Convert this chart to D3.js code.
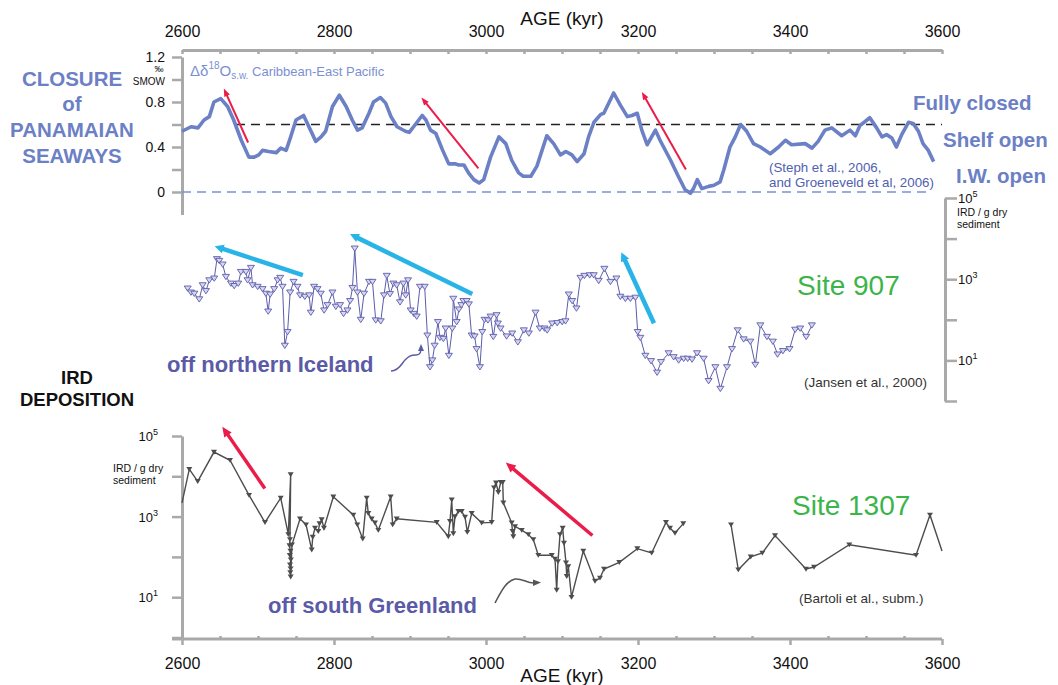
<!DOCTYPE html>
<html><head><meta charset="utf-8">
<script src="https://cdn.jsdelivr.net/npm/d3@7"></script>
<style>
body{margin:0;background:#fff;}
svg{display:block;font-family:"Liberation Sans",Arial,Helvetica,sans-serif;}
</style></head><body><svg id="c" width="1058" height="685"></svg>
<script>
// ---------- tick labels ----------
const ageTicks=[2600,2800,3000,3200,3400,3600];
const ageMinorTicks=d3.range(2600,3601,50);
const deltaTicks=[0,0.2,0.4,0.6,0.8,1.0,1.2];
const deltaLabels=[0,0.4,0.8,1.2];
const irdTicks=[1,10,100,1e3,1e4,1e5];
const irdLabels=[10,1e3,1e5];
// reference levels (Δδ18O)
const fullyClosedLevel=0.6, fullyClosedFrom=2671;
const iwOpenLevel=0, iwOpenTo=3585;

// ---------- Δδ18O s.w. Caribbean - East Pacific ----------
const deltaAge=[2600,2612,2621,2629,2636,2642,2651,2660,2668,2678,2688,2695,2701,2706,2714,2724,2730,2737,2743,2750,2760,2767,2776,2783,2789,2798,2807,2816,2824,2831,2837,2846,2852,2861,2868,2875,2883,2894,2899,2907,2916,2921,2927,2934,2943,2951,2960,2964,2971,2977,2984,2991,2997,3006,3017,3026,3034,3043,3049,3059,3067,3080,3089,3098,3105,3113,3120,3129,3135,3142,3151,3155,3168,3177,3186,3192,3199,3205,3212,3223,3229,3243,3253,3262,3269,3273,3278,3284,3293,3300,3308,3313,3321,3328,3335,3343,3352,3361,3374,3385,3394,3402,3420,3429,3437,3446,3455,3468,3479,3486,3492,3505,3514,3521,3527,3534,3540,3547,3556,3562,3569,3575,3582,3589];
const deltaVal=[0.54,0.58,0.57,0.64,0.67,0.80,0.83,0.76,0.64,0.46,0.31,0.31,0.33,0.37,0.36,0.35,0.39,0.37,0.49,0.64,0.68,0.58,0.45,0.49,0.54,0.76,0.86,0.76,0.64,0.55,0.57,0.70,0.80,0.84,0.79,0.67,0.58,0.54,0.53,0.60,0.68,0.64,0.55,0.52,0.37,0.25,0.25,0.24,0.24,0.17,0.11,0.08,0.11,0.31,0.49,0.43,0.28,0.17,0.14,0.14,0.23,0.50,0.43,0.33,0.36,0.33,0.27,0.34,0.49,0.62,0.69,0.70,0.88,0.77,0.67,0.68,0.70,0.55,0.42,0.55,0.46,0.28,0.14,0.02,-0.01,0.03,0.11,0.03,0.05,0.06,0.09,0.20,0.40,0.49,0.60,0.54,0.43,0.40,0.34,0.40,0.46,0.42,0.43,0.39,0.45,0.55,0.57,0.50,0.55,0.50,0.59,0.66,0.57,0.49,0.51,0.48,0.40,0.51,0.62,0.61,0.54,0.43,0.37,0.27];

// ---------- IRD Site 907 (IRD / g dry sediment) ----------
const ird907Age=[2607.5,2611.8,2616.2,2622.7,2627.2,2631.5,2635.9,2642.4,2646,2649,2653.5,2657.8,2664.4,2668.7,2674,2677.5,2684.1,2686.3,2690.7,2692.9,2699.5,2706,2710.4,2713.4,2716,2721.3,2725.8,2729.2,2732.3,2735.3,2738.9,2742.3,2746.8,2752,2755.4,2761.6,2767.3,2769.5,2773.8,2778.3,2782.6,2787,2791.5,2798,2802.4,2808,2812.5,2817.7,2821.2,2824.3,2827.3,2830.9,2835.2,2839.5,2846.1,2850.6,2854.9,2861.5,2865.8,2869.4,2873.7,2878.2,2882.5,2886.9,2891.3,2894.3,2897.4,2900.9,2905.2,2908.8,2913.1,2919.3,2922.9,2926.3,2929.4,2932.4,2936.8,2939.4,2943.9,2946.9,2951.2,2955.7,2957,2961.4,2964.4,2967.5,2970.2,2974.5,2977.5,2981.1,2985,2987.6,2992,2995.1,2998.1,3002.5,3006,3009.6,3013.9,3015.6,3019.2,3027.1,3034.5,3041.9,3049.8,3056.4,3065.2,3070.8,3077,3080.5,3087.1,3093.7,3100.2,3104.6,3108.9,3113.4,3119,3124.3,3129.5,3136.5,3141.8,3148.3,3155.8,3163.7,3171.6,3176.8,3183.4,3190,3196.6,3199.6,3203.1,3209.7,3217.2,3225.1,3230.3,3240.3,3246.9,3253.5,3260.1,3265.3,3271.1,3277.7,3286.4,3292.9,3301.8,3308.4,3317.1,3323.7,3331.1,3339,3347.8,3354.4,3361,3369.7,3377.5,3383.6,3390.7,3399.4,3406.8,3413.4,3421.3,3428.8];
const ird907Val=[590,470,440,320,710,510,940,1040,3120,2830,2300,1140,780,680,780,1510,1510,940,1900,710,650,570,440,160,420,570,940,1080,650,23,50,470,860,650,400,370,400,150,650,570,440,170,230,470,210,230,140,170,290,610,5700,470,100,440,860,860,97,92,400,1210,430,780,710,270,780,400,940,170,140,120,650,650,41,6.8,10,23,88,36,34,61,13,61,330,88,180,230,290,290,240,41,39,19,6.8,50,100,97,120,38,130,81,61,39,46,28,55,46,150,61,61,55,81,83,88,92,420,290,190,1080,1210,1250,1250,910,1800,860,1040,370,330,330,350,50,36,13,9.6,5,9.1,15,12,10,11,11,10.5,15,11,3.1,6.8,2,6.8,19,55,33,29,7.8,73,38,29,14,17,19,57,61,38,73];

// ---------- IRD Site 1307 (IRD / g dry sediment), null = data gap ----------
const ird1307Age=[2600,2609.6,2620.7,2642.1,2663.2,2688.2,2709.2,2729.9,2739.9,2743,2742.1,2741.4,2742.7,2741.8,2743.2,2742.1,2742.9,2742.5,2743,2744.7,2755.3,2763.2,2770.7,2772,2775,2779.3,2781,2783.8,2786.8,2799.1,2825.4,2830.7,2837.8,2843,2845.1,2849.6,2853.9,2858.3,2874.6,2877.2,2882.5,2935.1,2950.4,2952.6,2954.9,2957,2959.2,2963.6,2968,2972.4,2975.4,2981.2,2994.3,3007.5,3010.5,3013.2,3016.2,3019.4,3022,3022.8,3033.8,3034.9,3035.9,3038.2,3047,3055.7,3062.3,3068.8,3086.5,3090.8,3093,3094.7,3097.4,3100.9,3102.6,3105.3,3106.2,3108.3,3112.5,3128,3143.4,3150,3155.3,3175.4,3199.1,3218,3236.8,3242.1,3248.7,3259.6,3290,3322.4,3332,3348.3,3363.6,3380.3,3421,3431.6,3478,3565.8,3584.2,3600];
const ird1307Val=[2200,15000,7500,40000,25000,3400,720,2900,360,11000,270,190,140,110,85,64,51,41,32,200,880,630,150,310,520,430,670,840,520,3100,1100,630,280,2900,1200,880,700,460,3100,630,880,720,320,760,2600,380,1000,1350,1350,980,410,1200,700,720,5200,6900,4000,7100,7100,2200,700,430,320,570,460,360,270,110,110,89,15,77,360,520,220,71,33,58,10,140,25,30,50,73,160,125,720,520,390,670,null,630,48,100,125,340,50,56,200,110,1100,140];

// ---------- trend arrows [ageFrom, valFrom, ageTo, valTo] ----------
const redTopArrows=[[2687,0.44,2655,0.92],[2990,0.21,2915,0.84],[3263,0.20,3205,0.89]];
const cyanArrows=[[2759,1260,2643,6500],[2982,430,2821,12900],[3221,82,3178,4600]];
const redBotArrows=[[2709,5000,2653,170000],[3140,340,3026,22000]];

// ---------- drawing ----------
const svg=d3.select('#c');
const x=d3.scaleLinear().domain([2600,3600]).range([182,942]);
const yTop=d3.scaleLinear().domain([-0.2,1.2]).range([214.5,57]);
const yMid=d3.scaleLog().domain([1,1e5]).range([401,198]);
const yBot=d3.scaleLog().domain([1,1e5]).range([637.5,436]);

const GRAY='#a9a9a9', BLUE='#6b80c5', LBLUE='#7b90d2', PURP='#5a5aa6', GREEN='#3bb54a', RED='#ec1c4a', CYAN='#28b4e6';

function styleAxis(g){
  g.attr('font-family',null).attr('font-size',null);
  g.selectAll('path.domain').attr('stroke',GRAY).attr('stroke-width',3);
  g.selectAll('.tick line').attr('stroke',GRAY).attr('stroke-width',2.5);
  g.selectAll('.tick text').attr('fill','#111');
}
function txt(xp,yp,s,opt={}){
  const t=svg.append('text').attr('x',xp).attr('y',yp).text(s)
    .attr('font-size',opt.size||13).attr('fill',opt.color||'#111')
    .attr('font-weight',opt.bold?'bold':null).attr('text-anchor',opt.anchor||'start');
  return t;
}
function arrow(x1,y1,x2,y2,color,w,head,headW){
  const dx=x2-x1, dy=y2-y1, L=Math.hypot(dx,dy), ux=dx/L, uy=dy/L;
  const bx=x2-ux*head, by=y2-uy*head;
  svg.append('line').attr('x1',x1).attr('y1',y1).attr('x2',bx+ux).attr('y2',by+uy)
    .attr('stroke',color).attr('stroke-width',w);
  svg.append('path').attr('d',`M${x2},${y2}L${bx-uy*headW/2},${by+ux*headW/2}L${bx+uy*headW/2},${by-ux*headW/2}Z`).attr('fill',color);
}

// top age axis
const gTop=svg.append('g').attr('transform','translate(0,50)')
  .call(d3.axisBottom(x).tickValues(ageMinorTicks).tickSize(4).tickSizeOuter(0).tickFormat(''));
styleAxis(gTop);
const gTopL=svg.append('g').attr('transform','translate(0,50)')
  .call(d3.axisTop(x).tickValues(ageTicks).tickSize(0).tickPadding(13).tickFormat(d3.format('d')));
gTopL.select('.domain').remove();
styleAxis(gTopL); gTopL.selectAll('text').attr('font-size',16);
txt(562,25,'AGE (kyr)',{size:19,anchor:'middle'});

// bottom age axis
svg.append('line').attr('x1',x(2600)-10).attr('x2',x(3600)).attr('y1',639).attr('y2',639)
  .attr('stroke',GRAY).attr('stroke-width',3);
const gBm=svg.append('g').attr('transform','translate(0,639)')
  .call(d3.axisTop(x).tickValues(ageMinorTicks.filter(d=>!ageTicks.includes(d))).tickSize(3).tickFormat(''));
gBm.select('.domain').remove(); styleAxis(gBm);
const gB=svg.append('g').attr('transform','translate(0,639)')
  .call(d3.axisBottom(x).tickValues(ageTicks).tickSize(6).tickPadding(13).tickFormat(d3.format('d')));
gB.select('.domain').remove(); styleAxis(gB); gB.selectAll('text').attr('font-size',16);
txt(562,682,'AGE (kyr)',{size:19,anchor:'middle'});

// top panel y axis
const gY=svg.append('g').attr('transform','translate(182,0)')
  .call(d3.axisLeft(yTop).tickValues(deltaTicks).tickSize(10).tickSizeOuter(0).tickPadding(7)
    .tickFormat(d=>deltaLabels.includes(d)?d3.format('~g')(d):''));
styleAxis(gY); gY.selectAll('text').attr('font-size',14);
txt(159,72,'‰',{size:9,anchor:'middle'});
txt(165,85,'SMOW',{size:10,anchor:'end'});

// middle right log axis
const gM=svg.append('g').attr('transform','translate(945,0)')
  .call(d3.axisRight(yMid).tickValues(irdTicks).tickSize(12).tickSizeOuter(0).tickFormat(''));
styleAxis(gM);
// bottom left log axis
const gL=svg.append('g').attr('transform','translate(182,0)')
  .call(d3.axisLeft(yBot).tickValues(irdTicks).tickSize(10).tickSizeOuter(0).tickFormat(''));
styleAxis(gL);

function powLabel(xp,yp,v,anchor){
  const t=svg.append('text').attr('x',xp).attr('y',yp).attr('text-anchor',anchor).attr('fill','#111');
  t.append('tspan').attr('font-size',13).text('10');
  t.append('tspan').attr('font-size',9).attr('dy',-6).text(Math.round(Math.log10(v)));
}
irdLabels.forEach(v=>powLabel(958,yMid(v)+5,v,'start'));
irdLabels.forEach(v=>powLabel(158,yBot(v)+5,v,'end'));
txt(957,216,'IRD / g dry',{size:10.5});
txt(957,228,'sediment',{size:10.5});
txt(113,472,'IRD / g dry',{size:10.5});
txt(113,484,'sediment',{size:10.5});

// reference dashed levels
svg.append('line').attr('x1',x(fullyClosedFrom)).attr('x2',x(3600))
  .attr('y1',yTop(fullyClosedLevel)).attr('y2',yTop(fullyClosedLevel))
  .attr('stroke','#222').attr('stroke-width',1.3).attr('stroke-dasharray','9,6');
svg.append('line').attr('x1',x(2600)).attr('x2',x(iwOpenTo))
  .attr('y1',yTop(iwOpenLevel)).attr('y2',yTop(iwOpenLevel))
  .attr('stroke',LBLUE).attr('stroke-width',1.3).attr('stroke-dasharray','9,6');

// Δδ18O line
const deltaData=deltaAge.map((a,i)=>({a,v:deltaVal[i]}));
svg.append('path').datum(deltaData)
  .attr('d',d3.line().x(d=>x(d.a)).y(d=>yTop(d.v)))
  .attr('fill','none').attr('stroke',BLUE).attr('stroke-width',3.6).attr('stroke-linejoin','round');

// Site 907
const d907=ird907Age.map((a,i)=>({a,v:ird907Val[i]}));
svg.append('path').datum(d907)
  .attr('d',d3.line().x(d=>x(d.a)).y(d=>yMid(d.v)))
  .attr('fill','none').attr('stroke','#5c5cac').attr('stroke-width',1);
svg.append('g').selectAll('path').data(d907).join('path')
  .attr('transform',d=>`translate(${x(d.a)},${yMid(d.v)})`)
  .attr('d','M-3.5,-2.5L3.5,-2.5L0,2.8Z')
  .attr('fill','#d6d6f0').attr('stroke','#5c5cac').attr('stroke-width',0.9);

// Site 1307
const d1307=ird1307Age.map((a,i)=>({a,v:ird1307Val[i]}));
svg.append('path').datum(d1307)
  .attr('d',d3.line().defined(d=>d.v!=null).x(d=>x(d.a)).y(d=>yBot(d.v)))
  .attr('fill','none').attr('stroke','#4d4d4d').attr('stroke-width',1.4);
svg.append('g').selectAll('path').data(d1307.filter(d=>d.v!=null&&d.a>2600&&d.a<3600)).join('path')
  .attr('transform',d=>`translate(${x(d.a)},${yBot(d.v)})`)
  .attr('d','M-3,-2.3L3,-2.3L0,2.6Z').attr('fill','#4d4d4d');

// trend arrows
redTopArrows.forEach(r=>arrow(x(r[0]),yTop(r[1]),x(r[2]),yTop(r[3]),RED,2,8,6));
cyanArrows.forEach(r=>arrow(x(r[0]),yMid(r[1]),x(r[2]),yMid(r[3]),CYAN,4.5,9,9));
redBotArrows.forEach(r=>arrow(x(r[0]),yBot(r[1]),x(r[2]),yBot(r[3]),RED,3.5,10,9));

// labels top
[['CLOSURE',86],['of',111],['PANAMAIAN',137],['SEAWAYS',163]].forEach(([s,yy])=>txt(72,yy,s,{size:20.5,bold:true,color:BLUE,anchor:'middle'}));
const dl=svg.append('text').attr('x',190).attr('y',76).attr('fill',LBLUE);
dl.append('tspan').attr('font-size',15).text('Δδ');
dl.append('tspan').attr('font-size',10).attr('dy',-7).text('18');
dl.append('tspan').attr('font-size',15).attr('dy',7).text('O');
dl.append('tspan').attr('font-size',10).attr('dy',3).text('s.w.');
dl.append('tspan').attr('font-size',13).attr('dy',-3).text(' Caribbean-East Pacific');
txt(913,110,'Fully closed',{size:20.5,bold:true,color:BLUE});
txt(943,147,'Shelf open',{size:20.5,bold:true,color:BLUE});
txt(956,183,'I.W. open',{size:20.5,bold:true,color:BLUE});
txt(769,172,'(Steph et al., 2006,',{size:13.3,color:'#5060b0'});
txt(769,187,'and Groeneveld et al, 2006)',{size:13.3,color:'#5060b0'});

// labels middle
txt(797,295,'Site 907',{size:28,color:GREEN});
txt(804,387,'(Jansen et al., 2000)',{size:13.5,color:'#333'});
txt(167,372,'off northern Iceland',{size:22,bold:true,color:PURP});
txt(77,384,'IRD',{size:18.5,bold:true,anchor:'middle'});
txt(77,406,'DEPOSITION',{size:18.5,bold:true,anchor:'middle'});
svg.append('path').attr('d','M391,371 C399,371 402,363 405,360 C408,357 410,355 416,355 C419,355 420.5,353 420.8,350.5')
  .attr('fill','none').attr('stroke',PURP).attr('stroke-width',1.5);
svg.append('path').attr('d','M421,344 L424,351 L418,351 Z').attr('fill',PURP);

// labels bottom
txt(792,515,'Site 1307',{size:28,color:GREEN});
txt(799,603,'(Bartoli et al., subm.)',{size:13.5,color:'#333'});
txt(268,613,'off south Greenland',{size:22,bold:true,color:PURP});
svg.append('path').attr('d','M495,603 C501,592 506,581 515,579 C522,578 526,583 534,583')
  .attr('fill','none').attr('stroke','#555').attr('stroke-width',1.5);
svg.append('path').attr('d','M541,582.5 L533,579.5 L533,586 Z').attr('fill','#555');
</script></body></html>
